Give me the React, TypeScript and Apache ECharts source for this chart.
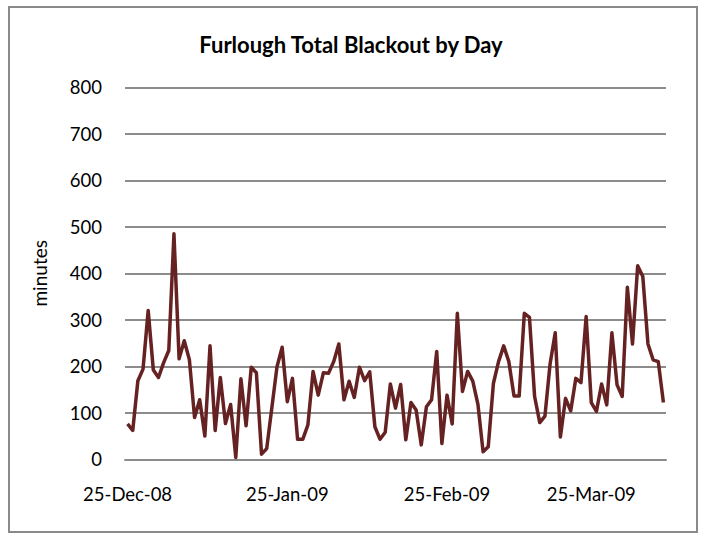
import React, { useEffect, useRef } from "react";
import * as echarts from "echarts";

const TITLE = "Furlough Total Blackout by Day";
const Y_NAME = "minutes";
const START_DATE = [2008, 11, 25]; // 25 Dec 2008 (month is 0-based)
const TICK_LABELS = ["25-Dec-08", "25-Jan-09", "25-Feb-09", "25-Mar-09"];
const MINUTES = [
  76, 62, 169, 194, 320, 192, 176, 208, 234, 485,
  216, 255, 214, 90, 128, 50, 244, 62, 176, 77,
  118, 4, 173, 72, 198, 186, 11, 23, 111, 199,
  241, 124, 174, 43, 43, 74, 189, 138, 186, 185,
  210, 248, 128, 168, 133, 198, 169, 188, 70, 43,
  58, 162, 110, 161, 42, 122, 106, 31, 113, 128,
  232, 34, 138, 76, 314, 146, 189, 168, 118, 16,
  27, 163, 210, 244, 210, 136, 136, 314, 305, 135,
  79, 93, 205, 272, 48, 131, 104, 174, 165, 307,
  122, 103, 162, 117, 272, 160, 135, 370, 248, 416,
  393, 248, 214, 210, 122,
];

const MONTHS = ["Jan", "Feb", "Mar", "Apr", "May", "Jun", "Jul", "Aug", "Sep", "Oct", "Nov", "Dec"];

function fmt(d: Date): string {
  const dd = String(d.getDate()).padStart(2, "0");
  const yy = String(d.getFullYear() % 100).padStart(2, "0");
  return `${dd}-${MONTHS[d.getMonth()]}-${yy}`;
}

const DATES: string[] = MINUTES.map((_, i) => {
  const d = new Date(START_DATE[0], START_DATE[1], START_DATE[2] + i);
  return fmt(d);
});

const FONT = "Lato, 'Open Sans', sans-serif";

export default function App() {
  const ref = useRef<HTMLDivElement>(null);
  useEffect(() => {
    document.body.style.margin = "0";
    const chart = echarts.init(ref.current!, undefined, { renderer: "svg" });
    chart.setOption({
      animation: false,
      backgroundColor: "#ffffff",
      title: {
        text: TITLE,
        left: "center",
        top: 28.5,
        textStyle: { fontFamily: FONT, fontSize: 22, fontWeight: "bold", color: "#000" },
      },
      graphic: [
        {
          type: "rect",
          shape: { x: 9, y: 7, width: 688, height: 525 },
          style: { fill: "none", stroke: "#8a8a8a", lineWidth: 2 },
          silent: true,
        },
      ],
      grid: { left: 125, right: 36, top: 87.3, bottom: 78.7, containLabel: false },
      xAxis: {
        type: "category",
        data: DATES,
        boundaryGap: true,
        axisLine: { show: true, lineStyle: { color: "#8c8c8c", width: 2 } },
        axisTick: { show: false },
        axisLabel: {
          interval: (_i: number, v: string) => TICK_LABELS.includes(v),
          margin: 25,
          fontFamily: FONT,
          fontSize: 18.5,
          color: "#000",
        },
        splitLine: { show: false },
      },
      yAxis: {
        type: "value",
        min: 0,
        max: 800,
        interval: 100,
        name: Y_NAME,
        nameLocation: "middle",
        nameGap: 76,
        nameRotate: 90,
        nameTextStyle: { fontFamily: FONT, fontSize: 19, color: "#000" },
        axisLine: { show: false },
        axisTick: { show: false },
        axisLabel: { margin: 23, fontFamily: FONT, fontSize: 18.5, color: "#000" },
        splitLine: { show: true, lineStyle: { color: "#8c8c8c", width: 2 } },
      },
      series: [
        {
          type: "line",
          data: MINUTES,
          showSymbol: false,
          symbol: "none",
          lineStyle: { color: "#662222", width: 3.5, join: "round" },
        },
      ],
    });
    return () => chart.dispose();
  }, []);
  return (
    <div
      ref={ref}
      style={{ position: "absolute", left: 0, top: 0, width: 702, height: 538 }}
    />
  );
}
